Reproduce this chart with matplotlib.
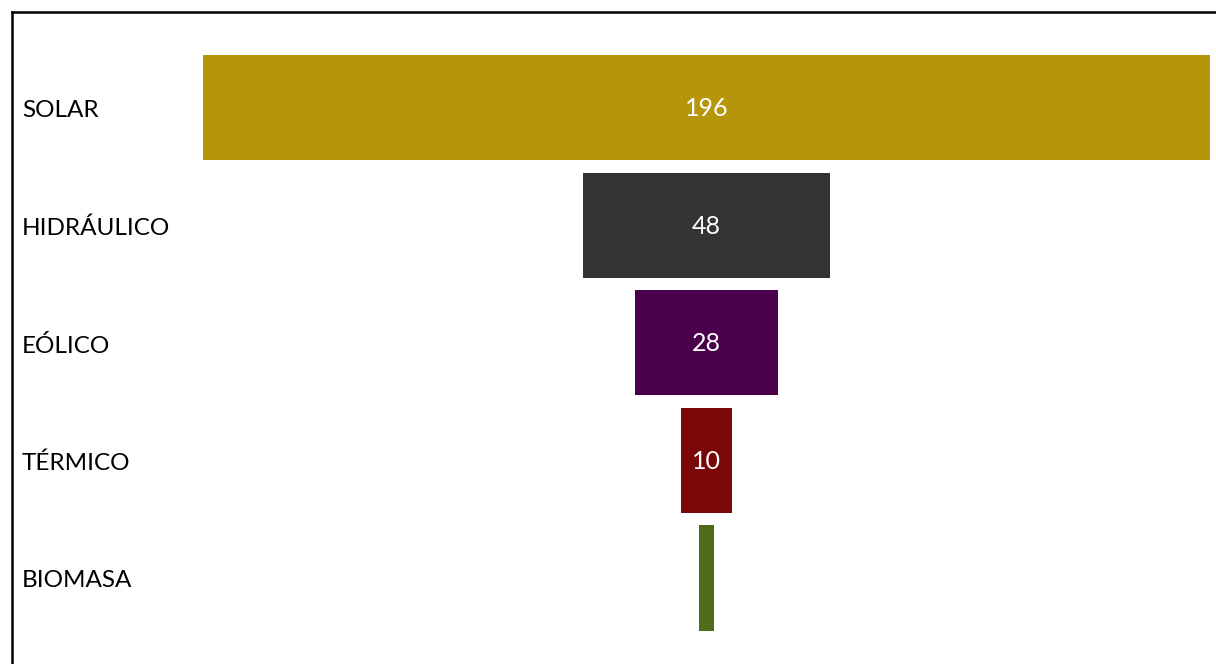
import matplotlib
matplotlib.use("Agg")
import matplotlib.pyplot as plt
from matplotlib.transforms import blended_transform_factory
from matplotlib.lines import Line2D

# Funnel data
categories = ["SOLAR", "HIDRÁULICO", "EÓLICO", "TÉRMICO", "BIOMASA"]
values = [196, 48, 28, 10, 3]
colors = ["#B5950A", "#333333", "#4B004B", "#7A0808", "#506B1A"]

plt.rcParams['font.family'] = ['Lato', 'DejaVu Sans']

W, H = 1216, 664
fig = plt.figure(figsize=(W / 100, H / 100), dpi=100)
# axes placed so the widest bar fills 203..1210 px
left, right = 203 / W, 1210 / W
top, bottom = 48.7 / H, 636.8 / H
ax = fig.add_axes([left, 1 - bottom, right - left, bottom - top])

y = list(range(len(categories)))
lefts = [-v / 2 for v in values]
ax.barh(y, values, left=lefts, height=0.893, color=colors)
ax.set_xlim(-max(values) / 2, max(values) / 2)
ax.set_ylim(len(categories) - 0.5, -0.5)
ax.axis("off")

# value labels (smallest segment is left unlabelled, as in the original)
for yi, v in zip(y, values):
    if v >= 5:
        ax.text(0, yi + 0.01, str(v), ha="center", va="center", color="white", fontsize=18)

# category labels at the left edge
trans = blended_transform_factory(fig.transFigure, ax.transData)
for yi, c in zip(y, categories):
    ax.text(22 / W, yi + 0.025, c, transform=trans, ha="left", va="center", fontsize=17.5, color="black")

# chart border (only left and top edges are in view)
fig.add_artist(Line2D([11.5 / W, 11.5 / W], [0, 1 - 12 / H], transform=fig.transFigure, color="black", lw=1.8))
fig.add_artist(Line2D([11.5 / W, 1], [1 - 12 / H, 1 - 12 / H], transform=fig.transFigure, color="black", lw=1.8))

fig.savefig("out.png", dpi=100)
